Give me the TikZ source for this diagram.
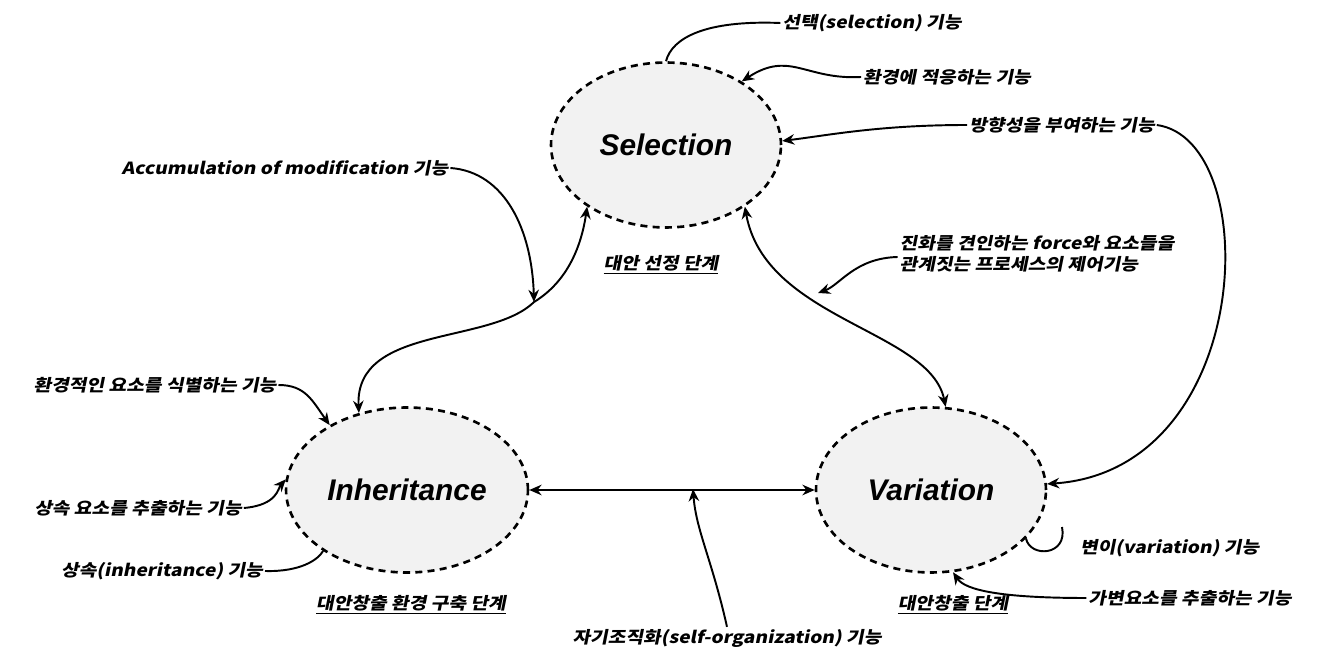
\documentclass[tikz,border=0pt]{standalone}
\usepackage{fontspec}
\setmainfont{Liberation Sans}
\newfontfamily\kr{Noto Sans CJK KR}[FakeSlant=0.2,FakeStretch=1.15]
\usetikzlibrary{arrows.meta,shapes.geometric}
\begin{document}
\begin{tikzpicture}[x=0.02cm,y=-0.02cm,
  stage/.style={ellipse,draw,line width=1.5pt,dash pattern=on 4pt off 3pt,
    fill=black!5,minimum width=4.6cm,minimum height=3.3cm,
    font=\fontsize{17}{20}\selectfont\bfseries\itshape},
  lbl/.style={inner sep=1pt,font=\kr\fontsize{9.5}{12}\selectfont\bfseries},
  stagelbl/.style={inner sep=1pt,font=\kr\fontsize{9.5}{12}\selectfont\bfseries},
  link/.style={line width=1.1pt},
  tip/.style={link,-{Stealth[length=7pt,width=6pt]}},
  tips/.style={link,{Stealth[length=7pt,width=6pt]}-{Stealth[length=7pt,width=6pt]}}]
\useasboundingbox (0,0) rectangle (1332,668);

% three stages
\node[stage] (sel) at (666,145) {Selection};
\node[stage] (inh) at (407,490) {Inheritance};
\node[stage] (var) at (931,490) {Variation};

% stage captions
\node[stagelbl] (sellbl) at (661,265) {\underline{대안 선정 단계}};
\node[stagelbl] (inhlbl) at (411,605) {\underline{대안창출 환경 구축 단계}};
\node[stagelbl] (varlbl) at (953,605) {\underline{대안창출 단계}};

% function labels
\node[lbl] (selfn) at (872,23) {선택(selection) 기능};
\node[lbl] (env) at (947,77) {환경에 적응하는 기능};
\node[lbl] (dir) at (1062,125) {방향성을 부여하는 기능};
\node[lbl] (acc) at (285,168) {Accumulation of modification 기능};
\node[lbl,align=left] (force) at (1037,254) {진화를 견인하는 force와 요소들을\\관계짓는 프로세스의 제어기능};
\node[lbl] (envid) at (155,385) {환경적인 요소를 식별하는 기능};
\node[lbl] (inhx) at (138,508) {상속 요소를 추출하는 기능};
\node[lbl] (inhf) at (162,571) {상속(inheritance) 기능};
\node[lbl] (selforg) at (727,638) {자기조직화(self-organization) 기능};
\node[lbl,anchor=west] (varf) at (1078,548) {변이(variation) 기능};
\node[lbl] (varx) at (1190,598) {가변요소를 추출하는 기능};

% points on and near the main connectors
\coordinate (m1) at (534,302);
\coordinate (so) at (693,489);
\coordinate (fz) at (818,293);
\coordinate (curl) at (1062,527);

% main cycle
\draw[tips] (sel.218) .. controls (580,255) and (562,285) .. (m1)
  .. controls (490,345) and (355,325) .. (inh.122);
\draw[tips] (sel.322) .. controls (765,320) and (930,330) .. (var.80);
\draw[tips] (inh.east) -- (var.west);

% function connectors
\draw[link] (selfn.west) .. controls (705,20) and (672,38) .. (sel.north);
\draw[tip] (env.west) .. controls (805,80) and (790,50) .. (sel.40);
\draw[tip] (dir.west) .. controls (880,125) and (830,135) .. (sel.2);
\draw[tip] (dir.east) .. controls (1265,140) and (1255,470) .. (var.3);
\draw[tip] (acc.east) .. controls (505,172) and (532,230) .. (m1);
\draw[tip] (force.west |- 0,257) .. controls (855,258) and (840,285) .. (fz);
\draw[tip] (envid.east) .. controls (305,385) and (312,400) .. (inh.140);
\draw[tip] (inhx.east) .. controls (278,505) and (278,488) .. (inh.175);
\draw[link] (inhf.east) .. controls (300,572) and (318,560) .. (inh.216);
\draw[tip] (selforg.north) .. controls (712,560) and (696,530) .. (so);
\draw[link] (var.333) .. controls (1030,558) and (1068,556) .. (curl);
\draw[tip] (varx.west) .. controls (1000,598) and (965,590) .. (var.285);
\end{tikzpicture}
\end{document}
